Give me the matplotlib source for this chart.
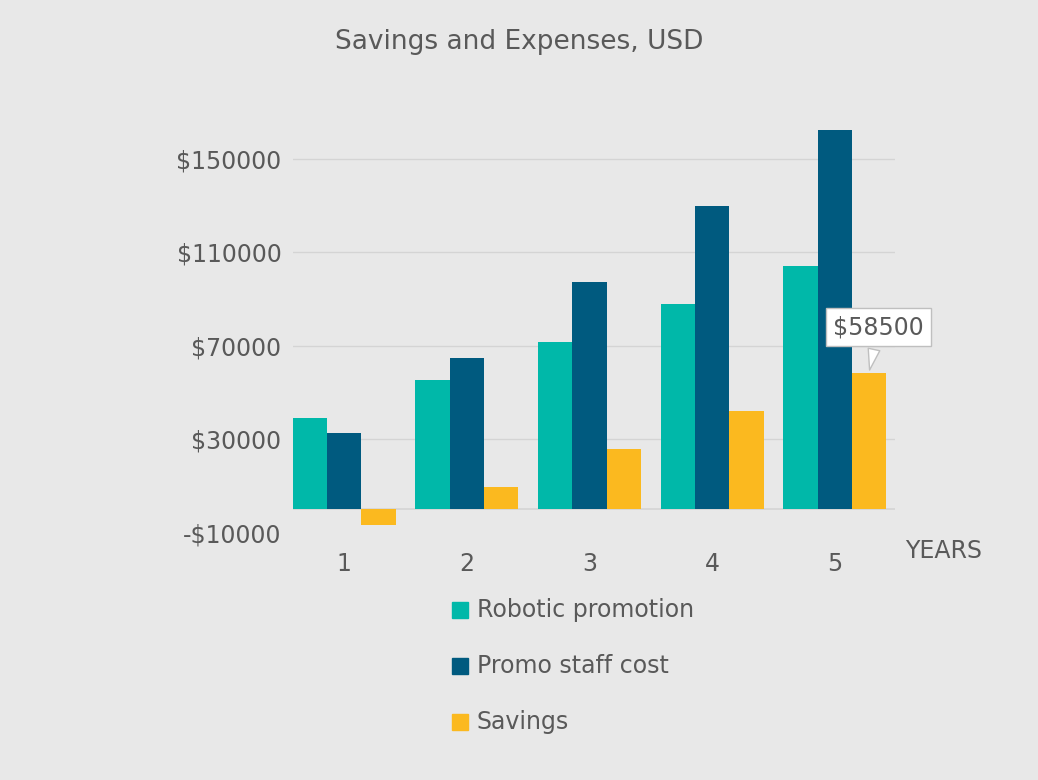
import matplotlib
matplotlib.use("Agg")
import matplotlib.pyplot as plt
import matplotlib.patches as mpatches
import numpy as np

years = ["1", "2", "3", "4", "5"]
robotic = [39000, 55500, 71500, 88000, 104000]
promo = [32500, 65000, 97500, 130000, 162500]
savings = [-6500, 9500, 26000, 42000, 58500]
series_names = ["Robotic promotion", "Promo staff cost", "Savings"]
colors = ["#00b8a9", "#005a7f", "#fbb91f"]
yticks = [-10000, 30000, 70000, 110000, 150000]

bg = "#e8e8e8"
fig = plt.figure(figsize=(10.38, 7.8), dpi=100, facecolor=bg)
ax = fig.add_axes([0.282, 0.317, 0.58, 0.539], facecolor=bg)
x = np.arange(1, 6)
w = 0.28
for i, (vals, c) in enumerate(zip([robotic, promo, savings], colors)):
    ax.bar(x + (i - 1) * w, vals, w, color=c, zorder=3)

ax.set_xlim(0.58, 5.49)
ax.set_ylim(-10000, 170000)
ax.set_yticks(yticks)
ax.set_yticklabels([f"-${-v}" if v < 0 else f"${v}" for v in yticks], fontsize=17, color="#595959")
ax.set_xticks(x)
ax.set_xticklabels(years, fontsize=17, color="#595959")
ax.tick_params(length=0, pad=8)
ax.tick_params(axis="x", pad=14)
for v in yticks[1:]:
    ax.axhline(v, color="#d4d4d4", lw=1, zorder=1)
ax.axhline(0, color="#d4d4d4", lw=1.2, zorder=1)
for s in ax.spines.values():
    s.set_visible(False)

fig.text(0.872, 0.293, "YEARS", fontsize=17, color="#595959", va="center")
fig.text(0.5, 0.946, "Savings and Expenses, USD", fontsize=19, color="#595959", ha="center", va="center")

ax.annotate("$58500", xy=(5 + w, savings[4]), xytext=(5 + w + 0.08, 78000),
            fontsize=17, color="#595959", ha="center", va="center",
            bbox=dict(boxstyle="square,pad=0.3", fc="white", ec="#bfbfbf"),
            arrowprops=dict(arrowstyle="wedge,tail_width=0.5", fc="white", ec="#bfbfbf"), zorder=5)

for i, (name, c) in enumerate(zip(series_names, colors)):
    yc = 1 - (610 + 56 * i) / 780
    fig.patches.append(mpatches.Rectangle((452 / 1038, yc - 8 / 780), 16 / 1038, 16 / 780,
                                          transform=fig.transFigure, color=c))
    fig.text(477 / 1038, yc, name, fontsize=17, color="#595959", va="center")

fig.savefig("out.png", dpi=100, facecolor=bg)
